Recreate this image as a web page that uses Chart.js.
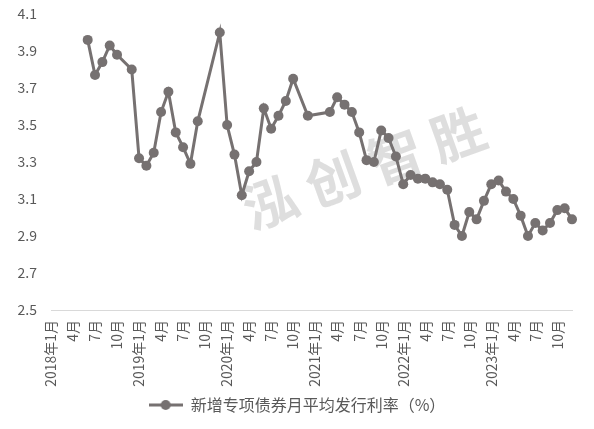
<!DOCTYPE html>
<html><head><meta charset="utf-8">
<script src="https://cdn.jsdelivr.net/npm/chart.js@4"></script>
<style>html,body{margin:0;padding:0;background:#fff}#wrap{width:594px;height:429px}</style>
</head><body>
<div id="wrap"><canvas id="c" width="594" height="429"></canvas></div>
<script>
const years = [2018, 2019, 2020, 2021, 2022, 2023];
const monthNames = ['1月','2月','3月','4月','5月','6月','7月','8月','9月','10月','11月','12月'];
const categories = [];
years.forEach(y => monthNames.forEach((m, k) => categories.push(k === 0 ? y + '年' + m : m)));

const seriesName = '新增专项债券月平均发行利率（%）';
const rates = [
  null, null, null, null, null, 3.96, 3.77, 3.84, 3.93, 3.88, null, 3.80,
  3.32, 3.28, 3.35, 3.57, 3.68, 3.46, 3.38, 3.29, 3.52, null, null, 4.00,
  3.50, 3.34, 3.12, 3.25, 3.30, 3.59, 3.48, 3.55, 3.63, 3.75, null, 3.55,
  null, null, 3.57, 3.65, 3.61, 3.57, 3.46, 3.31, 3.30, 3.47, 3.43, 3.33,
  3.18, 3.23, 3.21, 3.21, 3.19, 3.18, 3.15, 2.96, 2.90, 3.03, 2.99, 3.09,
  3.18, 3.20, 3.14, 3.10, 3.01, 2.90, 2.97, 2.93, 2.97, 3.04, 3.05, 2.99
];
const yMin = 2.5, yMax = 4.1, yStep = 0.2;
const watermarkChars = ['泓', '创', '智', '胜'];

const lineColor = '#767171';
const textColor = '#595959';
const fontFam = "'Noto Sans CJK SC', 'Noto Sans', sans-serif";

// legend symbol: line with a dot
const sym = document.createElement('canvas');
sym.width = 34; sym.height = 12;
(function(){
  const g = sym.getContext('2d');
  g.strokeStyle = lineColor; g.lineWidth = 3;
  g.beginPath(); g.moveTo(0, 6); g.lineTo(34, 6); g.stroke();
  g.fillStyle = lineColor;
  g.beginPath(); g.arc(17, 6, 5, 0, Math.PI * 2); g.fill();
})();

const watermark = {
  id: 'watermark',
  beforeDatasetsDraw(chart) {
    const ctx = chart.ctx;
    ctx.save();
    ctx.fillStyle = 'rgba(218,218,218,0.9)';
    ctx.font = "bold 54px " + fontFam;
    ctx.textAlign = 'center';
    ctx.textBaseline = 'middle';
    const x0 = 270, y0 = 202, x1 = 458, y1 = 134;
    const ang = Math.atan2(y1 - y0, x1 - x0);
    watermarkChars.forEach((ch, k) => {
      const t = k / (watermarkChars.length - 1);
      ctx.save();
      ctx.translate(x0 + (x1 - x0) * t, y0 + (y1 - y0) * t);
      ctx.rotate(ang);
      ctx.fillText(ch, 0, 0);
      ctx.restore();
    });
    ctx.restore();
  }
};

new Chart(document.getElementById('c'), {
  type: 'line',
  data: {
    labels: categories,
    datasets: [{
      label: seriesName,
      data: rates,
      borderColor: lineColor,
      backgroundColor: lineColor,
      borderWidth: 3,
      pointRadius: 5,
      pointBackgroundColor: lineColor,
      pointBorderColor: lineColor,
      pointBorderWidth: 0,
      spanGaps: true,
      tension: 0
    }]
  },
  options: {
    responsive: false,
    animation: false,
    layout: { padding: { top: 14, right: 0, bottom: 6, left: 0 } },
    plugins: {
      legend: {
        position: 'bottom',
        labels: {
          color: textColor,
          font: { family: fontFam, size: 16 },
          usePointStyle: true,
          pointStyleWidth: 34,
          boxHeight: 12,
          padding: 10,
          generateLabels: (chart) => [{
            text: seriesName,
            pointStyle: sym,
            fillStyle: lineColor,
            strokeStyle: lineColor,
            lineWidth: 0,
            fontColor: textColor,
            datasetIndex: 0,
            hidden: false
          }]
        }
      },
      tooltip: { enabled: false }
    },
    scales: {
      x: {
        grid: { display: false, drawTicks: false },
        border: { display: true, color: '#d9d9d9', width: 1 },
        ticks: {
          autoSkip: false,
          maxRotation: 90,
          minRotation: 90,
          padding: 10,
          color: textColor,
          font: { family: fontFam, size: 14 },
          callback: (v, i) => (i % 3 === 0 ? categories[i] : '')
        },
        afterFit: (s) => { s.height = 77; s.paddingLeft = 0; s.paddingRight = 22; }
      },
      y: {
        min: yMin,
        max: yMax,
        grid: { display: false, drawTicks: false },
        border: { display: false },
        ticks: {
          stepSize: yStep,
          padding: 14,
          color: textColor,
          font: { family: fontFam, size: 14 },
          callback: (v) => Number(v).toFixed(1)
        },
        afterFit: (s) => { s.width = 51; s.paddingTop = 0; s.paddingBottom = 0; }
      }
    }
  },
  plugins: [watermark]
});
</script>
</body></html>
